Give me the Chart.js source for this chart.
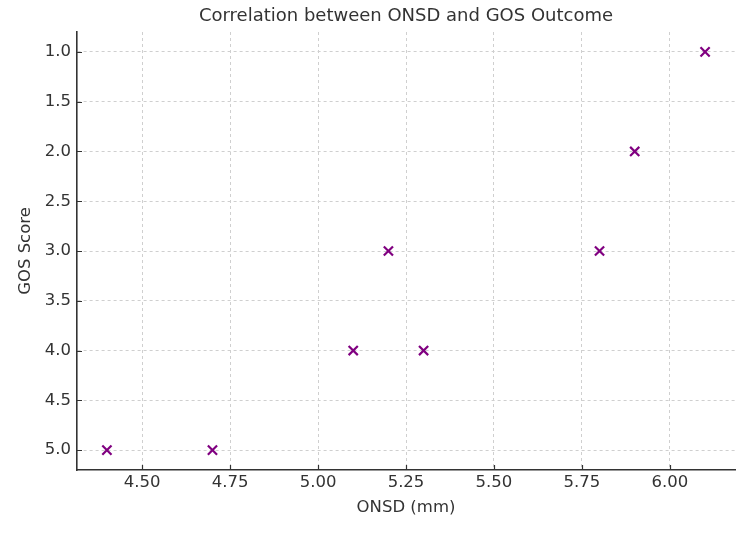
<!DOCTYPE html>
<html>
<head>
<meta charset="utf-8">
<script src="https://cdn.jsdelivr.net/npm/chart.js@4/dist/chart.umd.min.js"></script>
<style>
  html, body { margin: 0; padding: 0; background: #fff; }
  #wrap { width: 750px; height: 536px; }
</style>
</head>
<body>
<div id="wrap"><canvas id="scatter"></canvas></div>
<script>
// data
const onsd = [4.4, 4.7, 5.1, 5.2, 5.3, 5.8, 5.9, 6.1];
const gos = [5, 5, 4, 3, 4, 3, 2, 1];
const xTicks = [4.50, 4.75, 5.00, 5.25, 5.50, 5.75, 6.00];
const yTicks = [1.0, 1.5, 2.0, 2.5, 3.0, 3.5, 4.0, 4.5, 5.0];

const points = onsd.map((v, i) => ({ x: v, y: gos[i] }));
const fontFam = "'DejaVu Sans', sans-serif";

// matplotlib style inward tick marks
const inTicks = {
  id: 'inTicks',
  afterDraw(chart) {
    const { ctx, scales: { x, y } } = chart;
    ctx.save();
    ctx.strokeStyle = '#333';
    ctx.lineWidth = 1.2;
    ctx.beginPath();
    xTicks.forEach(t => {
      const px = Math.round(x.getPixelForValue(t)) + 0.5;
      ctx.moveTo(px, y.bottom);
      ctx.lineTo(px, y.bottom - 5);
    });
    yTicks.forEach(t => {
      const py = Math.round(y.getPixelForValue(t)) + 0.5;
      ctx.moveTo(x.left, py);
      ctx.lineTo(x.left + 5, py);
    });
    ctx.stroke();
    ctx.restore();
  }
};

new Chart(document.getElementById('scatter'), {
  type: 'scatter',
  data: {
    datasets: [{
      label: 'GOS',
      data: points,
      pointStyle: 'crossRot',
      pointRadius: 6.5,
      pointHoverRadius: 6.5,
      borderColor: '#800080',
      backgroundColor: '#800080',
      pointBorderWidth: 2.2
    }]
  },
  options: {
    responsive: true,
    maintainAspectRatio: false,
    animation: false,
    layout: { padding: { top: 0, right: 15, bottom: 0, left: 0 } },
    plugins: {
      legend: { display: false },
      tooltip: { enabled: false },
      title: {
        display: true,
        text: 'Correlation between ONSD and GOS Outcome',
        fullSize: false,
        color: '#333',
        font: { family: fontFam, size: 18, weight: 'normal' },
        padding: { top: 6, bottom: 4.4 }
      }
    },
    scales: {
      x: {
        type: 'linear',
        min: 4.315,
        max: 6.185,
        afterBuildTicks: s => { s.ticks = xTicks.map(v => ({ value: v })); },
        afterFit: s => { s.height = 66; },
        ticks: {
          color: '#333',
          padding: 3,
          font: { family: fontFam, size: 16.5 },
          callback: v => Number(v).toFixed(2)
        },
        grid: { color: '#cfcfcf', lineWidth: 1, drawTicks: false },
        border: { color: '#333', width: 1.6, dash: [3, 3] },
        title: {
          display: true,
          text: 'ONSD (mm)',
          color: '#333',
          font: { family: fontFam, size: 16.5 },
          padding: { top: 0, bottom: 18 }
        }
      },
      y: {
        type: 'linear',
        reverse: true,
        min: 0.8,
        max: 5.2,
        afterBuildTicks: s => { s.ticks = yTicks.map(v => ({ value: v })); },
        afterFit: s => { s.width = 77; },
        ticks: {
          color: '#333',
          padding: 6,
          font: { family: fontFam, size: 16.5 },
          callback: v => Number(v).toFixed(1)
        },
        grid: { color: '#cfcfcf', lineWidth: 1, drawTicks: false },
        border: { color: '#333', width: 1.6, dash: [3, 3] },
        title: {
          display: true,
          text: 'GOS Score',
          color: '#333',
          font: { family: fontFam, size: 16.5 },
          padding: { top: 16, bottom: 0 }
        }
      }
    }
  },
  plugins: [inTicks]
});
</script>
</body>
</html>
